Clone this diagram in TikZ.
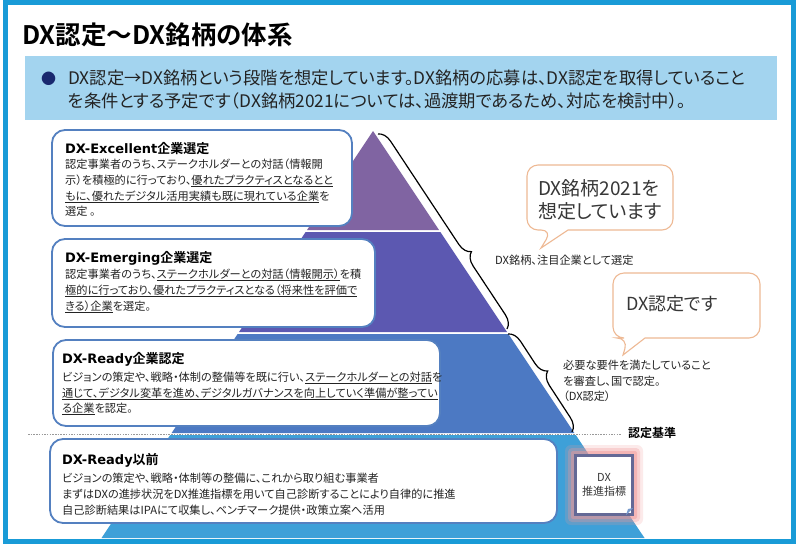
\documentclass[tikz,border=0pt]{standalone}
\usepackage{fontspec}
\setmainfont{Noto Sans CJK JP}[RawFeature=+palt, BoldFont={Noto Sans CJK JP Bold}]
\newfontfamily\dv{DejaVu Sans}
\usetikzlibrary{decorations.pathreplacing}
\definecolor{frameblue}{RGB}{25,155,215}
\definecolor{banner}{RGB}{163,212,239}
\definecolor{bandA}{RGB}{128,100,162}
\definecolor{bandB}{RGB}{92,88,177}
\definecolor{bandC}{RGB}{76,121,195}
\definecolor{bandD}{RGB}{62,160,216}
\definecolor{boxblue}{RGB}{84,128,192}
\definecolor{bubbleline}{RGB}{238,185,148}
\definecolor{txt}{RGB}{35,35,35}
\definecolor{txtb}{RGB}{55,55,55}
\definecolor{glow}{RGB}{240,150,150}
\definecolor{dxline}{RGB}{100,105,150}
\definecolor{navy}{RGB}{25,40,110}
\newcommand\boxtitle[2]{{\dv\bfseries #1}#2}
\tikzset{
  stepbox/.style={draw=boxblue, line width=1.8pt, fill=white, rounded corners=13pt},
  ttl/.style={anchor=base west, inner sep=0pt, font=\fontsize{13}{15}\selectfont\bfseries, text=black},
  bod/.style={anchor=base west, inner sep=0pt, font=\fontsize{11.2}{14}\selectfont, text=txt},
  bub/.style={draw=bubbleline, line width=1.1pt, fill=white},
  bubtxt/.style={anchor=base west, inner sep=0pt, font=\fontsize{19}{23}\selectfont, text=txtb},
  bracestyle/.style={draw=black, line width=1.2pt, decorate},
}
\begin{document}
\begin{tikzpicture}[x=1pt,y=-1pt]
\useasboundingbox (0,0) rectangle (800,547);
\fill[white] (0,0) rectangle (800,547);
% title
\node[anchor=base west, inner sep=0pt, font=\fontsize{25.5}{28}\selectfont\bfseries] (title) at (22,44.5) {DX認定～DX銘柄の体系};
% banner
\fill[banner] (25,56) rectangle (777,120);
\node[anchor=base west, inner sep=0pt, font=\fontsize{15}{18}\selectfont, text=navy] (bul) at (41,84) {●};
\node[anchor=base west, inner sep=0pt, font=\fontsize{17.3}{20}\selectfont, text=txt] (bn1) at (68,84.5) {DX認定→DX銘柄という段階を想定しています。DX銘柄の応募は、DX認定を取得していること};
\node[anchor=base west, inner sep=0pt, font=\fontsize{17.3}{20}\selectfont, text=txt] (bn2) at (68,107.5) {を条件とする予定です（DX銘柄2021については、過渡期であるため、対応を検討中）。};
% pyramid
\fill[bandA] (373,131) -- (439,230) -- (307,230) -- cycle;
\fill[bandB] (305.6,232) -- (440.4,232) -- (507,332) -- (239,332) -- cycle;
\fill[bandC] (237.6,334) -- (508.4,334) -- (574.4,433) -- (171.6,433) -- cycle;
\fill[bandD] (170.2,435) -- (575.8,435) -- (644.5,538) -- (101.5,538) -- cycle;
\draw[gray!80, line width=0.8pt, dash pattern=on 1.5pt off 1.2pt] (28,434) -- (622,434);
% boxes
\draw[stepbox] (52,130) rectangle (352,226);
\draw[stepbox] (52,239) rectangle (375,327);
\draw[stepbox] (53,340) rectangle (440,426);
\draw[stepbox] (50,439) rectangle (557,523);
% box 1
\node[ttl] (t1) at (65,153) {\boxtitle{DX-Excellent}{企業選定}};
\node[bod] (t1a) at (65,168) {認定事業者のうち、ステークホルダーとの対話（情報開};
\node[bod] (t1b) at (65,184) {示）を積極的に行っており、\underline{優れたプラクティスとなるとと}};
\node[bod] (t1c) at (65,200) {\underline{もに、優れたデジタル活用実績も既に現れている企業}を};
\node[bod] (t1d) at (65,215) {選定 。};
% box 2
\node[ttl] (t2) at (65,262) {\boxtitle{DX-Emerging}{企業選定}};
\node[bod] (t2a) at (65,278) {認定事業者のうち、\underline{ステークホルダーとの対話（情報開示）}を積};
\node[bod] (t2b) at (65,294) {\underline{極的に行っており、優れたプラクティスとなる（将来性を評価で}};
\node[bod] (t2c) at (65,310) {\underline{きる）企業}を選定。};
% box 3
\node[ttl] (t3) at (62,363) {\boxtitle{DX-Ready}{企業認定}};
\node[bod] (t3a) at (62,381) {ビジョンの策定や、戦略・体制の整備等を既に行い、\underline{ステークホルダーとの対話}を};
\node[bod] (t3b) at (62,397) {\underline{通じて、デジタル変革を進め、デジタルガバナンスを向上していく準備が整ってい}};
\node[bod] (t3c) at (62,412) {\underline{る企業}を認定。};
% box 4
\node[ttl] (t4) at (62,464) {\boxtitle{DX-Ready}{以前}};
\node[bod] (t4a) at (62,482) {ビジョンの策定や、戦略・体制等の整備に、これから取り組む事業者};
\node[bod] (t4b) at (62,498) {まずはDXの進捗状況をDX推進指標を用いて自己診断することにより自律的に推進};
\node[bod] (t4c) at (62,514) {自己診断結果はIPAにて収集し、ベンチマーク提供・政策立案へ活用};
% braces
\coordinate (br1s) at (378,134);
\coordinate (br1e) at (507,329);
\coordinate (br2s) at (508,334);
\coordinate (br2e) at (572,432);
\draw[bracestyle, decoration={brace, amplitude=13pt, aspect=0.64}] (br1s) -- (br1e);
\draw[bracestyle, decoration={brace, amplitude=13pt, aspect=0.45}] (br2s) -- (br2e);
% right texts
\node[bod] (sel) at (495,264) {DX銘柄、注目企業として選定};
\node[bod] (req1) at (563,369) {必要な要件を満たしていること};
\node[bod] (req2) at (563,385) {を審査し、国で認定。};
\node[bod] (req3) at (563,400) {（DX認定）};
\node[anchor=base west, inner sep=0pt, font=\fontsize{12}{14}\selectfont\bfseries] (kijun) at (628,437.5) {認定基準};
% bubbles
\draw[bub] (552,230) -- (541,248) -- (568,230) [rounded corners=11pt] -- (673,230) -- (673,165) -- (527,165) -- (527,230) -- cycle;
\node[bubtxt] (q1a) at (538,195) {DX銘柄2021を};
\node[bubtxt] (q1b) at (538,218) {想定しています};
\draw[bub] (628,338) -- (623,355) -- (645,338) [rounded corners=11pt] -- (760,338) -- (760,273) -- (613,273) -- (613,338) -- cycle;
\node[bubtxt, font=\fontsize{18}{22}\selectfont] (q2) at (626,310) {DX認定です};
% DX index card
\fill[glow, opacity=0.2, rounded corners=6pt] (565,445) rectangle (643,525);
\fill[glow, opacity=0.3, rounded corners=4pt] (568,448) rectangle (640,522);
\fill[glow, opacity=0.45, rounded corners=2pt] (571,451) rectangle (637,519);
\node[draw=dxline, line width=2.2pt, fill=white, minimum width=57pt, minimum height=59pt, inner sep=0pt, align=center, font=\fontsize{11}{14.5}\selectfont, text=txtb] (dx) at (604,485) {DX\\推進指標};
\fill[boxblue!80] (626,515) -- (633,508) -- (628,509) -- cycle;
% frame
\draw[frameblue, line width=5pt] (5,2.5) rectangle (793,541);
\end{tikzpicture}
\end{document}
